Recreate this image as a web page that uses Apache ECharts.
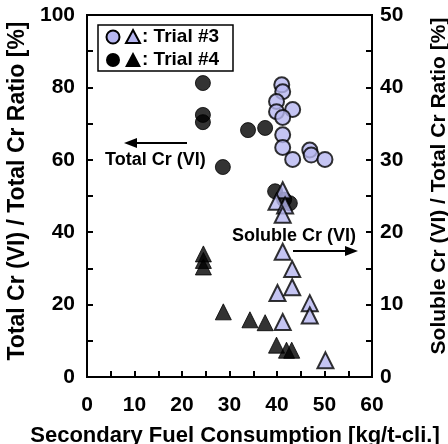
<!DOCTYPE html>
<html>
<head>
<meta charset="utf-8">
<script src="https://cdn.jsdelivr.net/npm/echarts@6/dist/echarts.min.js"></script>
<style>
  html, body { margin: 0; padding: 0; background: #fff; }
  #chart { width: 448px; height: 444px; }
</style>
</head>
<body>
<div id="chart"></div>
<script>
// Trial #4, total Cr(VI) ratio (left axis) [fuel, %]
var trial4Total = [
  [24.4, 81.2], [24.4, 72.4], [24.4, 70.4], [28.6, 58.0],
  [33.9, 68.2], [37.5, 68.8], [39.6, 51.3], [41.5, 49.0], [42.7, 48.0]
];
// Trial #3, total Cr(VI) ratio (left axis)
var trial3Total = [
  [41.0, 80.7], [41.2, 78.8], [39.9, 76.1], [39.9, 73.3], [43.3, 73.9],
  [41.2, 71.7], [41.2, 66.9], [41.2, 63.4], [43.3, 60.1], [46.9, 62.7],
  [47.2, 61.3], [50.1, 60.1]
];
// Trial #4, soluble Cr(VI) ratio (right axis)
var trial4Soluble = [
  [24.5, 17.0], [24.5, 16.1], [24.5, 15.2], [28.7, 9.0], [34.3, 7.9],
  [37.5, 7.5], [39.9, 4.4], [42.0, 3.7], [43.1, 3.7]
];
// Trial #3, soluble Cr(VI) ratio (right axis)
var trial3Soluble = [
  [41.2, 25.8], [39.9, 24.2], [41.7, 23.7], [41.2, 22.4], [41.2, 17.3],
  [43.2, 14.9], [40.1, 11.6], [43.2, 12.4], [46.9, 10.2], [46.9, 8.5],
  [41.2, 7.6], [50.2, 2.3]
];
var xTicks = [0, 10, 20, 30, 40, 50, 60];
var leftTicks = [0, 20, 40, 60, 80, 100];
var rightTicks = [0, 10, 20, 30, 40, 50];

var FONT = 'Liberation Sans, Arial, sans-serif';
var PURPLE = '#b6b6f0';

var chart = echarts.init(document.getElementById('chart'));

function showOnly(list) {
  return function (v) { return list.indexOf(v) >= 0 ? String(v) : ''; };
}

var axisBase = {
  axisLine: { show: true, onZero: false, lineStyle: { color: '#000', width: 2 } },
  axisTick: { show: true, inside: true, length: 6, lineStyle: { color: '#000', width: 2 } },
  splitLine: { show: false },
  nameTextStyle: { color: '#000', fontWeight: 'bold', fontFamily: FONT }
};

chart.setOption({
  animation: false,
  backgroundColor: '#fff',
  grid: {
    left: 87, right: 76, top: 15, bottom: 67, containLabel: false, outerBoundsMode: 'none',
    show: true, borderColor: '#000', borderWidth: 2, backgroundColor: 'transparent'
  },
  xAxis: Object.assign({}, axisBase, {
    type: 'value', min: 0, max: 60, interval: 5,
    name: 'Secondary Fuel Consumption [kg/t-cli.]',
    nameLocation: 'middle', nameGap: 48,
    nameTextStyle: Object.assign({}, axisBase.nameTextStyle, { fontSize: 22, padding: [0, 0, 0, 11] }),
    axisLabel: { color: '#000', fontSize: 21, fontWeight: 'bold', fontFamily: FONT, margin: 18, formatter: showOnly(xTicks) }
  }),
  yAxis: [
    Object.assign({}, axisBase, {
      type: 'value', min: 0, max: 100, interval: 10, position: 'left',
      name: 'Total Cr (VI) / Total Cr Ratio [%]',
      nameLocation: 'middle', nameGap: 47,
      nameTextStyle: Object.assign({}, axisBase.nameTextStyle, { fontSize: 23, padding: [0, 0, 0, 10] }),
      axisLabel: { color: '#000', fontSize: 21, fontWeight: 'bold', fontFamily: FONT, margin: 12, formatter: showOnly(leftTicks) }
    }),
    Object.assign({}, axisBase, {
      type: 'value', min: 0, max: 50, interval: 5, position: 'right',
      name: 'Soluble Cr (VI) / Total Cr Ratio [%]',
      nameLocation: 'middle', nameGap: 57, nameRotate: 90,
      nameTextStyle: Object.assign({}, axisBase.nameTextStyle, { fontSize: 21, padding: [0, 0, 0, 20] }),
      axisLabel: { color: '#000', fontSize: 21, fontWeight: 'bold', fontFamily: FONT, margin: 8, formatter: showOnly(rightTicks) }
    })
  ],
  series: [
    {
      name: 'Trial #4 total', type: 'scatter', yAxisIndex: 0, data: trial4Total,
      symbol: 'circle', symbolSize: 15, z: 2,
      itemStyle: { color: '#000', borderColor: '#000', borderWidth: 1 }
    },
    {
      name: 'Trial #3 total', type: 'scatter', yAxisIndex: 0, data: trial3Total,
      symbol: 'circle', symbolSize: 15, z: 3,
      itemStyle: { color: PURPLE, borderColor: '#000', borderWidth: 2 }
    },
    {
      name: 'Trial #4 soluble', type: 'scatter', yAxisIndex: 1, data: trial4Soluble,
      symbol: 'triangle', symbolSize: 16, z: 4,
      itemStyle: { color: '#000', borderColor: '#000', borderWidth: 1 }
    },
    {
      name: 'Trial #3 soluble', type: 'scatter', yAxisIndex: 1, data: trial3Soluble,
      symbol: 'triangle', symbolSize: 16, z: 5,
      itemStyle: { color: PURPLE, borderColor: '#000', borderWidth: 2 }
    }
  ],
  graphic: [
    // legend box
    { type: 'rect', shape: { x: 98, y: 25, width: 135, height: 46 }, style: { fill: '#fff', stroke: '#000', lineWidth: 1.5 }, z: 10 },
    { type: 'circle', shape: { cx: 113, cy: 37, r: 6.5 }, style: { fill: PURPLE, stroke: '#000', lineWidth: 2 }, z: 11 },
    { type: 'polygon', shape: { points: [[133, 30], [140, 43], [126, 43]] }, style: { fill: PURPLE, stroke: '#000', lineWidth: 2 }, z: 11 },
    { type: 'text', x: 142, y: 37, style: { text: ': Trial #3', fill: '#000', font: 'bold 19px ' + FONT, verticalAlign: 'middle' }, z: 11 },
    { type: 'circle', shape: { cx: 113, cy: 60, r: 7 }, style: { fill: '#000' }, z: 11 },
    { type: 'polygon', shape: { points: [[133, 52], [141, 67], [125, 67]] }, style: { fill: '#000' }, z: 11 },
    { type: 'text', x: 142, y: 60, style: { text: ': Trial #4', fill: '#000', font: 'bold 19px ' + FONT, verticalAlign: 'middle' }, z: 11 },
    // Total Cr (VI) annotation with left arrow
    { type: 'line', shape: { x1: 187, y1: 143, x2: 133, y2: 143 }, style: { stroke: '#000', lineWidth: 2 }, z: 10 },
    { type: 'polygon', shape: { points: [[124, 143], [137, 138], [137, 148]] }, style: { fill: '#000' }, z: 10 },
    { type: 'text', x: 105, y: 160, style: { text: 'Total Cr (VI)', fill: '#000', font: 'bold 18px ' + FONT, verticalAlign: 'middle' }, z: 10 },
    // Soluble Cr (VI) annotation with right arrow
    { type: 'text', x: 232, y: 236, style: { text: 'Soluble Cr (VI)', fill: '#000', font: 'bold 18px ' + FONT, verticalAlign: 'middle' }, z: 10 },
    { type: 'line', shape: { x1: 293, y1: 251, x2: 349, y2: 251 }, style: { stroke: '#000', lineWidth: 2 }, z: 10 },
    { type: 'polygon', shape: { points: [[358, 251], [345, 246], [345, 256]] }, style: { fill: '#000' }, z: 10 }
  ]
});
</script>
</body>
</html>
